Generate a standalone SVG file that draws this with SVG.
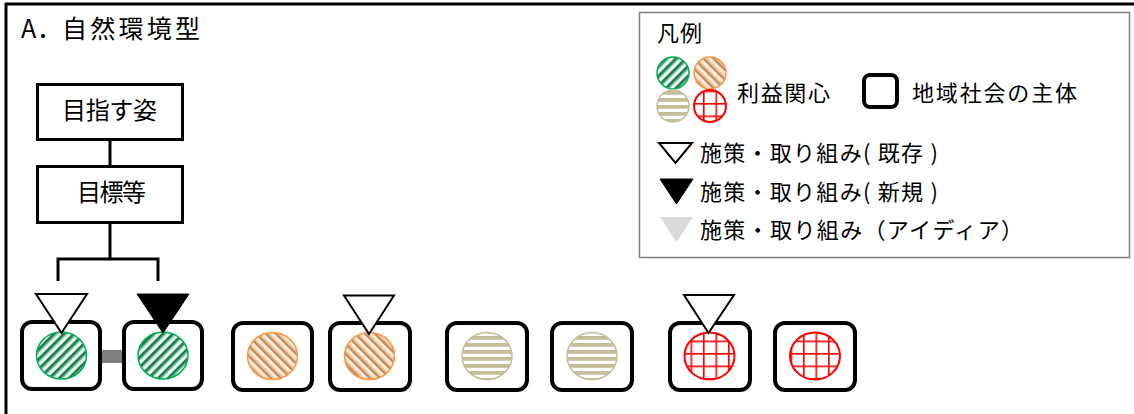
<svg xmlns="http://www.w3.org/2000/svg" width="1134" height="414" viewBox="0 0 1134 414">
<defs>
<style>
text{font-family:"Noto Sans CJK JP","Noto Sans CJK SC",sans-serif;fill:#000}
.box{fill:#fff;stroke:#000;stroke-width:3}
.node{fill:#fff;stroke:#000;stroke-width:4}
.line{stroke:#000;stroke-width:3;fill:none}
.tri-open{fill:#fff;stroke:#000;stroke-width:2}
.tri-new{fill:#000;stroke:#000;stroke-width:1}
.tri-idea{fill:#d9d9d9;stroke:none}
.c-green{fill:url(#pGreen);stroke:#00b050;stroke-width:1.5}
.c-orange{fill:url(#pOrange);stroke:#f79646;stroke-width:1.5}
.c-beige{fill:url(#pBeige);stroke:#c4bd97;stroke-width:1.5}
.c-red{fill:url(#pRed);stroke:#ff0000;stroke-width:2}
</style>
<pattern id="pGreen" patternUnits="userSpaceOnUse" width="7" height="7" patternTransform="rotate(45)">
<rect width="7" height="7" fill="#eaf8f0"/>
<rect x="0" width="2.8" height="7" fill="#1b7a4c"/>
<rect x="2.8" width="1" height="7" fill="#6cc699"/>
</pattern>
<pattern id="pOrange" patternUnits="userSpaceOnUse" width="7" height="7" patternTransform="rotate(-45)">
<rect width="7" height="7" fill="#fcebd8"/>
<rect x="0" width="2.4" height="7" fill="#b98c66"/>
<rect x="2.4" width="1.2" height="7" fill="#f2ad6a"/>
</pattern>
<pattern id="pBeige" patternUnits="userSpaceOnUse" width="7" height="7">
<rect width="7" height="7" fill="#ffffff"/>
<rect y="0" width="7" height="3.8" fill="#c4bd97"/>
</pattern>
<pattern id="pRed" patternUnits="userSpaceOnUse" width="12.5" height="12.5" x="3" y="3">
<rect width="12.5" height="12.5" fill="#ffffff"/>
<rect x="0" y="0" width="1.6" height="12.5" fill="#ff0000"/>
<rect x="0" y="0" width="12.5" height="1.6" fill="#ff0000"/>
</pattern>
</defs>

<g id="frame">
<line x1="5" y1="4" x2="1134" y2="4" stroke="#000" stroke-width="3"/>
<line x1="6" y1="3" x2="6" y2="414" stroke="#000" stroke-width="3"/>
</g>

<g id="title">
<text font-size="25"><tspan x="21" y="38">A</tspan><tspan x="37" y="38">．</tspan><tspan x="62" y="38" textLength="138" lengthAdjust="spacing">自然環境型</tspan></text>
</g>

<g id="connectors">
<line class="line" x1="110" y1="139" x2="110" y2="166"/>
<line class="line" x1="110" y1="223" x2="110" y2="259"/>
<polyline class="line" points="58,281 58,259 158,259 158,281"/>
<rect x="102" y="350" width="20" height="13" fill="#808080"/>
</g>

<g id="goal">
<rect class="box" x="37.5" y="84.5" width="145" height="55"/>
<text x="62" y="119" font-size="24" textLength="95" lengthAdjust="spacing">目指す姿</text>
</g>

<g id="target">
<rect class="box" x="37.5" y="166.5" width="145" height="56"/>
<text x="77" y="201" font-size="24" textLength="69" lengthAdjust="spacing">目標等</text>
</g>

<g id="n1">
<rect class="node" x="22" y="322" width="78" height="67" rx="10"/>
<ellipse class="c-green" cx="61.5" cy="355.5" rx="25" ry="23.5"/>
<polygon class="tri-open" points="36,294 87,294 61.5,333"/>
</g>
<g id="n2">
<rect class="node" x="124" y="322" width="78" height="67" rx="10"/>
<ellipse class="c-green" cx="163" cy="355.5" rx="25" ry="23.5"/>
<polygon class="tri-new" points="137,294 189,294 163,333"/>
</g>
<g id="n3">
<rect class="node" x="233" y="323" width="79" height="67" rx="10"/>
<ellipse class="c-orange" cx="272.5" cy="356" rx="25" ry="23.5"/>
</g>
<g id="n4">
<rect class="node" x="330" y="323" width="80" height="67" rx="10"/>
<ellipse class="c-orange" cx="369.5" cy="356" rx="25" ry="23.5"/>
<polygon class="tri-open" points="344,295.5 394,295.5 369,334"/>
</g>
<g id="n5">
<rect class="node" x="447" y="323" width="80" height="67" rx="10"/>
<ellipse class="c-beige" cx="487" cy="356" rx="25" ry="23.5"/>
</g>
<g id="n6">
<rect class="node" x="552" y="323" width="80" height="67" rx="10"/>
<ellipse class="c-beige" cx="592" cy="356" rx="25" ry="23.5"/>
</g>
<g id="n7">
<rect class="node" x="670" y="323" width="80" height="67" rx="10"/>
<ellipse class="c-red" cx="709.5" cy="356" rx="25" ry="23.5"/>
<polygon class="tri-open" points="684,295 734,295 708.5,333"/>
</g>
<g id="n8">
<rect class="node" x="775" y="323" width="80" height="67" rx="10"/>
<ellipse class="c-red" cx="815" cy="356" rx="25" ry="23.5"/>
</g>

<g id="legend">
<rect x="639.5" y="12.5" width="490" height="245" fill="#fff" stroke="#7f7f7f" stroke-width="1.5"/>
<text x="657" y="41" font-size="22" textLength="45" lengthAdjust="spacing">凡例</text>
<circle class="c-green" cx="673" cy="73" r="16"/>
<circle class="c-orange" cx="710" cy="73" r="16"/>
<circle class="c-beige" cx="673" cy="106" r="16"/>
<circle class="c-red" cx="710" cy="106" r="16"/>
<text x="737" y="101" font-size="22" textLength="93" lengthAdjust="spacing">利益関心</text>
<rect x="864" y="75" width="33" height="32" rx="6" fill="#fff" stroke="#000" stroke-width="4"/>
<text x="912" y="101" font-size="22" textLength="165" lengthAdjust="spacing">地域社会の主体</text>
<polygon class="tri-open" points="659,143 692,143 675.5,163" stroke-width="1.5"/>
<text x="700" y="161" font-size="22" textLength="238" lengthAdjust="spacing">施策・取り組み( 既存 )</text>
<polygon class="tri-new" points="660,179 693,179 676.5,204"/>
<text x="700" y="200" font-size="22" textLength="238" lengthAdjust="spacing">施策・取り組み( 新規 )</text>
<polygon class="tri-idea" points="660,217 693,217 676.5,242"/>
<text x="700" y="238" font-size="22" textLength="323" lengthAdjust="spacing">施策・取り組み（アイディア）</text>
</g>
</svg>
